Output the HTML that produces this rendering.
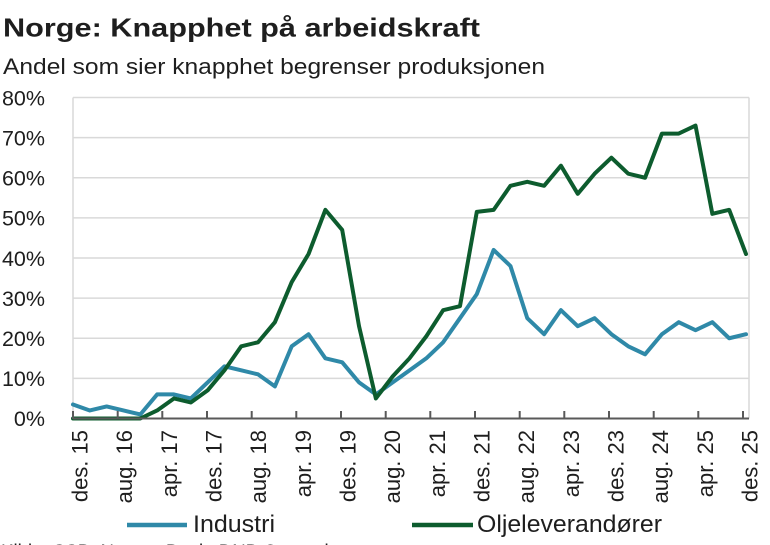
<!DOCTYPE html>
<html>
<head>
<meta charset="utf-8">
<style>
  html, body { margin:0; padding:0; background:#ffffff; }
  body { width:770px; height:545px; overflow:hidden; }
  svg { display:block; }
  text { font-family: "Liberation Sans", "DejaVu Sans", sans-serif; fill:#1e1e1e; }
</style>
</head>
<body>
<svg width="770" height="545" viewBox="0 0 770 545" xmlns="http://www.w3.org/2000/svg">
  <!-- Title -->
  <text x="3" y="36.5" font-size="26" font-weight="bold" fill="#111" textLength="477" lengthAdjust="spacingAndGlyphs">Norge: Knapphet på arbeidskraft</text>
  <text x="3" y="74" font-size="22" fill="#222" textLength="542" lengthAdjust="spacingAndGlyphs">Andel som sier knapphet begrenser produksjonen</text>

  <!-- Gridlines -->
  <g stroke="#d9d9d9" stroke-width="1.5">
    <line x1="73" y1="378.4" x2="749" y2="378.4"/>
    <line x1="73" y1="338.25" x2="749" y2="338.25"/>
    <line x1="73" y1="298.1" x2="749" y2="298.1"/>
    <line x1="73" y1="258" x2="749" y2="258"/>
    <line x1="73" y1="217.9" x2="749" y2="217.9"/>
    <line x1="73" y1="177.75" x2="749" y2="177.75"/>
    <line x1="73" y1="137.6" x2="749" y2="137.6"/>
    <line x1="73" y1="97.5" x2="749" y2="97.5"/>
    <line x1="73" y1="97.5" x2="73" y2="418.5"/>
    <line x1="749" y1="97.5" x2="749" y2="418.5"/>
  </g>

  <!-- Y labels -->
  <g font-size="21.5" text-anchor="end" fill="#222">
    <text x="45" y="426">0%</text>
    <text x="45" y="386">10%</text>
    <text x="45" y="346">20%</text>
    <text x="45" y="306">30%</text>
    <text x="45" y="266">40%</text>
    <text x="45" y="225.5">50%</text>
    <text x="45" y="185.5">60%</text>
    <text x="45" y="145.5">70%</text>
    <text x="45" y="105.5">80%</text>
  </g>

  <!-- Series: Industri -->
  <polyline fill="none" stroke="#2f89a8" stroke-width="4" stroke-linejoin="round" stroke-linecap="round"
    points="73.00,404.46 89.83,410.48 106.65,406.46 123.48,410.48 140.30,414.49 157.13,394.43 173.95,394.43 190.78,398.44 207.60,382.39 224.43,366.34 241.25,370.35 258.08,374.36 274.90,386.40 291.73,346.28 308.55,334.24 325.38,358.31 342.20,362.33 359.03,382.39 375.85,394.43 392.68,382.39 409.50,370.35 426.33,358.31 443.15,342.26 459.98,318.19 476.80,294.11 493.63,249.98 510.45,266.03 527.28,318.19 544.10,334.24 560.93,310.16 577.75,326.21 594.58,318.19 611.40,334.24 628.23,346.28 645.05,354.30 661.88,334.24 678.70,322.20 695.53,330.23 712.35,322.20 729.18,338.25 746.00,334.24"/>

  <!-- Series: Oljeleverandører -->
  <polyline fill="none" stroke="#0d5c2e" stroke-width="4" stroke-linejoin="round" stroke-linecap="round"
    points="73.00,418.5 89.83,418.5 106.65,418.5 123.48,418.5 140.30,418.5 157.13,410.48 173.95,398.44 190.78,402.45 207.60,390.41 224.43,370.35 241.25,346.28 258.08,342.26 274.90,322.20 291.73,282.08 308.55,253.99 325.38,209.85 342.20,229.91 359.03,326.21 375.85,398.44 392.68,376.37 409.50,358.31 426.33,336.24 443.15,310.16 459.98,306.15 476.80,211.90 493.63,209.85 510.45,185.78 527.28,181.76 544.10,185.78 560.93,165.71 577.75,193.80 594.58,173.74 611.40,157.69 628.23,173.74 645.05,177.75 661.88,133.61 678.70,133.61 695.53,125.59 712.35,213.86 729.18,209.85 746.00,253.99"/>

  <!-- X axis -->
  <line x1="73" y1="418.5" x2="749" y2="418.5" stroke="#595959" stroke-width="2"/>
  <g stroke="#595959" stroke-width="2">
    <line x1="73" y1="411" x2="73" y2="419"/>
    <line x1="117.7" y1="411" x2="117.7" y2="419"/>
    <line x1="162.3" y1="411" x2="162.3" y2="419"/>
    <line x1="207" y1="411" x2="207" y2="419"/>
    <line x1="251.7" y1="411" x2="251.7" y2="419"/>
    <line x1="296.3" y1="411" x2="296.3" y2="419"/>
    <line x1="341" y1="411" x2="341" y2="419"/>
    <line x1="385.7" y1="411" x2="385.7" y2="419"/>
    <line x1="430.3" y1="411" x2="430.3" y2="419"/>
    <line x1="475" y1="411" x2="475" y2="419"/>
    <line x1="519.7" y1="411" x2="519.7" y2="419"/>
    <line x1="564.3" y1="411" x2="564.3" y2="419"/>
    <line x1="609" y1="411" x2="609" y2="419"/>
    <line x1="653.7" y1="411" x2="653.7" y2="419"/>
    <line x1="698.3" y1="411" x2="698.3" y2="419"/>
    <line x1="743" y1="411" x2="743" y2="419"/>
  </g>

  <!-- X labels -->
  <g font-size="22" text-anchor="end" fill="#222">
    <text transform="translate(87.5,430) rotate(-90)">des. 15</text>
    <text transform="translate(132.2,430) rotate(-90)">aug. 16</text>
    <text transform="translate(176.8,430) rotate(-90)">apr. 17</text>
    <text transform="translate(221.5,430) rotate(-90)">des. 17</text>
    <text transform="translate(266.2,430) rotate(-90)">aug. 18</text>
    <text transform="translate(310.8,430) rotate(-90)">apr. 19</text>
    <text transform="translate(355.5,430) rotate(-90)">des. 19</text>
    <text transform="translate(400.2,430) rotate(-90)">aug. 20</text>
    <text transform="translate(444.8,430) rotate(-90)">apr. 21</text>
    <text transform="translate(489.5,430) rotate(-90)">des. 21</text>
    <text transform="translate(534.2,430) rotate(-90)">aug. 22</text>
    <text transform="translate(578.8,430) rotate(-90)">apr. 23</text>
    <text transform="translate(623.5,430) rotate(-90)">des. 23</text>
    <text transform="translate(668.2,430) rotate(-90)">aug. 24</text>
    <text transform="translate(712.8,430) rotate(-90)">apr. 25</text>
    <text transform="translate(757.5,430) rotate(-90)">des. 25</text>
  </g>

  <!-- Legend -->
  <line x1="127" y1="525" x2="187" y2="525" stroke="#2f89a8" stroke-width="4.5"/>
  <text x="193" y="532" font-size="24" fill="#222" textLength="82" lengthAdjust="spacingAndGlyphs">Industri</text>
  <line x1="412" y1="525" x2="473" y2="525" stroke="#0d5c2e" stroke-width="4.5"/>
  <text x="477" y="532" font-size="24" fill="#222" textLength="185" lengthAdjust="spacingAndGlyphs">Oljeleverandører</text>

  <!-- Cut-off source line -->
  <text x="1" y="558.5" font-size="20" fill="#333" textLength="338" lengthAdjust="spacingAndGlyphs">Kilde: SSB, Norges Bank, DNB Carnegie</text>
</svg>
</body>
</html>
